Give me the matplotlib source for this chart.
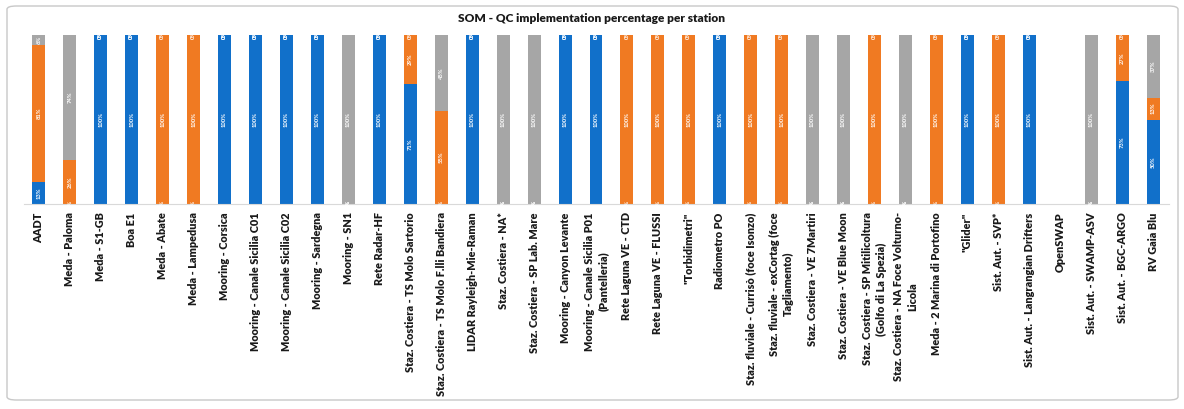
import matplotlib
matplotlib.use("Agg")
import matplotlib.pyplot as plt
from matplotlib.patches import FancyBboxPatch
import numpy as np

stations = [
    "AADT", "Meda - Paloma", "Meda - S1-GB", "Boa E1", "Meda - Abate", "Meda - Lampedusa",
    "Mooring - Corsica", "Mooring - Canale Sicilia C01", "Mooring - Canale Sicilia C02",
    "Mooring - Sardegna", "Mooring - SN1", "Rete Radar-HF",
    "Staz. Costiera - TS Molo Sartorio", "Staz. Costiera - TS Molo F.lli Bandiera",
    "LIDAR Rayleigh-Mie-Raman", "Staz. Costiera - NA*", "Staz. Costiera - SP Lab. Mare",
    "Mooring - Canyon Levante", "Mooring - Canale Sicilia P01\n(Pantelleria)",
    "Rete Laguna VE - CTD", "Rete Laguna VE - FLUSSI", "\"Torbidimetri\"", "Radiometro PO",
    "Staz. fluviale - Currisò (foce Isonzo)", "Staz. fluviale - exCortag (foce\nTagliamento)",
    "Staz. Costiera - VE 7Martiri", "Staz. Costiera - VE Blue Moon",
    "Staz. Costiera - SP Mitilicoltura\n(Golfo di La Spezia)",
    "Staz. Costiera - NA Foce Volturno-\nLicola", "Meda - 2 Marina di Portofino",
    "\"Glider\"", "Sist. Aut. - SVP*", "Sist. Aut. - Langrangian Drifters", "OpenSWAP",
    "Sist. Aut. - SWAMP-ASV", "Sist. Aut. - BGC-ARGO", "RV Gaia Blu",
]

blue = [13, 0, 100, 100, 0, 0, 100, 100, 100, 100, 0, 100, 71, 0, 100, 0, 0, 100, 100,
        0, 0, 0, 100, 0, 0, 0, 0, 0, 0, 0, 100, 0, 100, 0, 0, 73, 50]
orange = [81, 26, 0, 0, 100, 100, 0, 0, 0, 0, 0, 0, 29, 55, 0, 0, 0, 0, 0,
          100, 100, 100, 0, 100, 100, 0, 0, 100, 0, 100, 0, 100, 0, 0, 0, 27, 13]
gray = [6, 74, 0, 0, 0, 0, 0, 0, 0, 0, 100, 0, 0, 45, 0, 100, 100, 0, 0,
        0, 0, 0, 0, 0, 0, 100, 100, 0, 100, 0, 0, 0, 0, 0, 100, 0, 37]

colors = ["#1170CA", "#F07A22", "#A6A6A6"]
title = "SOM - QC implementation percentage per station"

plt.rcParams['font.family'] = ['Lato', 'DejaVu Sans']

fig = plt.figure(figsize=(11.84, 4.09), dpi=100)
frame = FancyBboxPatch((7/1184, 9/409), 1171/1184, 394/409,
                       boxstyle="round,pad=0,rounding_size=0.008",
                       transform=fig.transFigure, facecolor="white",
                       edgecolor="#C8C8C8", linewidth=1.0, zorder=-10)
fig.patches.append(frame)

ax = fig.add_axes([23.5/1184, (409-204)/409, 1145/1184, 169/409])
ax.set_facecolor("none")
x = np.arange(len(stations))
b = np.array(blue) / 100
o = np.array(orange) / 100
g = np.array(gray) / 100
w = 0.42
bottoms = [np.zeros(len(x)), b, b + o]
for vals, bot, c in zip([b, o, g], bottoms, colors):
    ax.bar(x, vals, w, bottom=bot, color=c, edgecolor="none")
    for xi, v, bo in zip(x, vals, bot):
        if b[xi] + o[xi] + g[xi] == 0:
            continue
        ax.text(xi, bo + v / 2, f"{round(v*100)}%", rotation=90, ha="center",
                va="center", color="white", fontsize=4.2, fontweight="bold")

ax.set_xlim(-0.5, len(x) - 0.5)
ax.set_ylim(0, 1.0)
ax.set_yticks([])
ax.set_xticks(x)
ax.set_xticklabels(stations, rotation=90, fontsize=7.8, fontweight="heavy",
                   color="#1a1a1a", ha="center", va="top", multialignment="center",
                   linespacing=1.3)
ax.tick_params(axis="x", length=0, pad=6)
for s in ["top", "left", "right"]:
    ax.spines[s].set_visible(False)
ax.spines["bottom"].set_color("#D9D9D9")
ax.spines["bottom"].set_linewidth(0.8)

fig.text(0.5, (409-18)/409, title, ha="center", va="center", fontsize=8.6,
         fontweight="heavy", color="#1a1a1a")

fig.savefig("out.png", dpi=100)
